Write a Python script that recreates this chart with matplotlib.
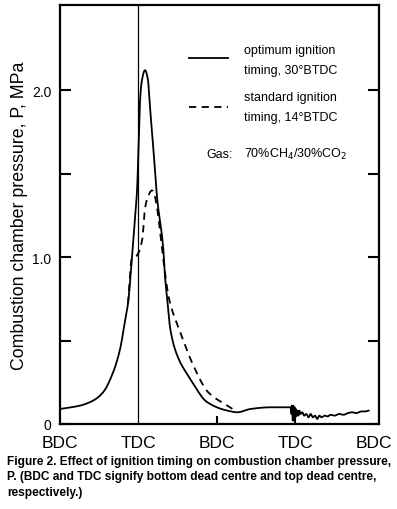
import numpy as np
import matplotlib
matplotlib.use('Agg')
import matplotlib.pyplot as plt

plt.rcParams['font.family'] = ['Liberation Sans', 'DejaVu Sans']

# crank angle (deg from BDC) and pressure (MPa)
opt_deg = [0, 46, 76, 99, 122, 138, 150, 156, 165, 172, 177, 181, 184, 188,
           195, 202, 205, 214, 223, 237, 241, 246, 253, 269, 299, 338, 384,
           407, 437, 483, 513, 529, 531, 532, 534, 535, 537, 538, 540, 541,
           543, 545, 547, 549, 552, 556, 560, 565, 570, 575, 580, 585, 590,
           595, 600, 607, 614, 620, 630, 640, 650, 660, 670, 680, 690, 700,
           708]
opt_p = [0.09, 0.11, 0.14, 0.19, 0.31, 0.45, 0.63, 0.72, 0.99, 1.22, 1.41,
         1.72, 1.95, 2.06, 2.12, 2.06, 1.95, 1.66, 1.35, 1.05, 0.88, 0.75,
         0.57, 0.41, 0.27, 0.13, 0.08, 0.07, 0.09, 0.10, 0.10, 0.10, 0.06,
         0.11, 0.02, 0.11, 0.03, 0.10, 0.04, 0.09, 0.05, 0.08, 0.05, 0.08,
         0.06, 0.07, 0.05, 0.06, 0.04, 0.06, 0.04, 0.05, 0.03, 0.05, 0.04,
         0.05, 0.045, 0.055, 0.05, 0.06, 0.055, 0.065, 0.07, 0.065, 0.075,
         0.075, 0.08]

std_deg = [156, 165, 168, 179, 189, 195, 203, 211, 217, 223, 234, 248, 253,
           276, 306, 340, 384, 402]
std_p = [0.72, 0.99, 0.99, 1.02, 1.11, 1.29, 1.37, 1.40, 1.37, 1.29, 1.05,
         0.78, 0.72, 0.55, 0.35, 0.19, 0.11, 0.08]

x_ticks = [0, 180, 360, 540, 720]
x_labels = ['BDC', 'TDC', 'BDC', 'TDC', 'BDC']


def pchip(x, y, n=12):
    # shape preserving cubic through the read points, for a smooth trace
    x = np.asarray(x, float)
    y = np.asarray(y, float)
    h = np.diff(x)
    d = np.diff(y) / h
    m = np.zeros_like(y)
    for k in range(1, len(x) - 1):
        if d[k - 1] * d[k] > 0:
            w1 = 2 * h[k] + h[k - 1]
            w2 = h[k] + 2 * h[k - 1]
            m[k] = (w1 + w2) / (w1 / d[k - 1] + w2 / d[k])
    m[0] = d[0]
    m[-1] = d[-1]
    xs, ys = [], []
    for k in range(len(x) - 1):
        t = np.linspace(0, 1, n, endpoint=False)
        h00 = 2 * t**3 - 3 * t**2 + 1
        h10 = t**3 - 2 * t**2 + t
        h01 = -2 * t**3 + 3 * t**2
        h11 = t**3 - t**2
        xs.append(x[k] + t * h[k])
        ys.append(h00 * y[k] + h10 * h[k] * m[k] + h01 * y[k + 1]
                  + h11 * h[k] * m[k + 1])
    xs.append([x[-1]])
    ys.append([y[-1]])
    return np.concatenate(xs), np.concatenate(ys)


fig = plt.figure(figsize=(3.97, 5.10), dpi=100)
ax = fig.add_axes([0.151, 0.1667, 0.804, 0.8213])

ox, oy = pchip(opt_deg, opt_p)
sx, sy = pchip(std_deg, std_p)
ax.plot(ox, oy, color='black', lw=1.3)
ax.plot(sx, sy, color='black', lw=1.3, ls=(0, (4, 3)))
ax.axvline(180, color='black', lw=0.9)

ax.set_xlim(0, 732)
ax.set_ylim(0, 2.51)

for s in ax.spines.values():
    s.set_linewidth(1.6)

ax.set_yticks([0, 0.5, 1.0, 1.5, 2.0])
ax.set_yticklabels(['0', '', '1.0', '', '2.0'], fontsize=10)
ax.tick_params(axis='y', direction='in', length=8, width=1.5, right=True,
               pad=6)
ax.set_xticks(x_ticks)
ax.set_xticklabels(x_labels, fontsize=12.5)
ax.tick_params(axis='x', direction='in', length=6, width=1.5, pad=8)
ax.xaxis.get_major_ticks()[0].tick1line.set_visible(False)
ax.xaxis.get_major_ticks()[1].tick1line.set_visible(False)
ax.xaxis.get_major_ticks()[4].tick1line.set_visible(False)

ax.set_ylabel('Combustion chamber pressure, P, MPa', fontsize=12.8,
              labelpad=3)

# legend drawn by hand
lx = [0.403, 0.528]
ax.plot(lx, [0.873, 0.873], color='black', lw=1.3, transform=ax.transAxes)
ax.plot(lx, [0.757, 0.757], color='black', lw=1.3, ls=(0, (4, 3)),
        transform=ax.transAxes)
tk = dict(transform=ax.transAxes, fontsize=9, va='center')
ax.text(0.577, 0.893, 'optimum ignition', **tk)
ax.text(0.577, 0.846, 'timing, 30\u00b0BTDC', **tk)
ax.text(0.577, 0.780, 'standard ignition', **tk)
ax.text(0.577, 0.733, 'timing, 14\u00b0BTDC', **tk)
ax.text(0.460, 0.645, 'Gas:', **tk)
ax.text(0.577, 0.645, '70%CH$_4$/30%CO$_2$', **tk)

cap = ['Figure 2. Effect of ignition timing on combustion chamber pressure,',
       'P. (BDC and TDC signify bottom dead centre and top dead centre,',
       'respectively.)']
for i, line in enumerate(cap):
    fig.text(0.018, 0.094 - i * 0.03, line, fontsize=8.6, fontweight='bold',
             va='center')

fig.savefig('out.png', dpi=100)
